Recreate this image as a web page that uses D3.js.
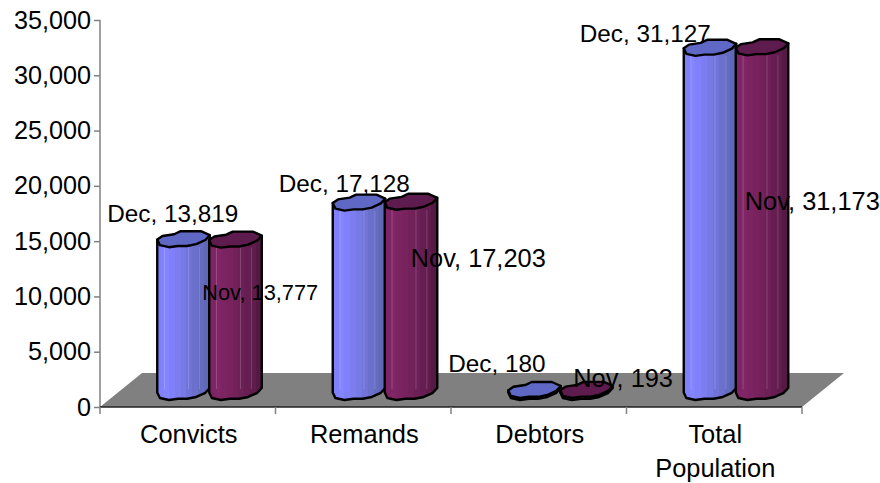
<!DOCTYPE html>
<html>
<head>
<meta charset="utf-8">
<script src="https://cdn.jsdelivr.net/npm/d3@7"></script>
<style>
  html, body { margin: 0; background: #fff; }
  text { font-family: "Liberation Sans", Arial, sans-serif; fill: #000; }
  .yAxis path, .yAxis line, .xAxis line { stroke: #808080; stroke-width: 1.5; }
  .xAxis path { stroke: #222; stroke-width: 1.5; }
</style>
</head>
<body>
<div id="wrapper"></div>
<script>
//1. Data
const categories = ['Convicts', 'Remands', 'Debtors', 'Total Population'];
const series = ['Dec', 'Nov'];
const decValues = [13819, 17128, 180, 31127];
const novValues = [13777, 17203, 193, 31173];
const yTicks = [0, 5000, 10000, 15000, 20000, 25000, 30000, 35000];

//2. Dimensions
const dimensions = {
  width: 880,
  height: 483,
  margin: { top: 20, right: 78, bottom: 76, left: 100 },
};
dimensions.boundedWidth = dimensions.width - dimensions.margin.left - dimensions.margin.right;
dimensions.boundedHeight = dimensions.height - dimensions.margin.top - dimensions.margin.bottom;

const depth = { x: 42, y: 34 };   // floor skew
const baseLift = 15;              // bars stand this far behind the front edge
const barShift = 21.5;
const ry = 8;

// label tweaks, same order as categories
const decLabelOffset = [[-76, -17], [-80, -11], [-86, -18], [-130, -6]];
const novLabelOffset = [[-33, 60], [0, 65], [-13, -3], [-17, 163]];
const novLabelSize = [21.8, 25.4, 25.4, 25.4];

// outline of a bar's cap, -1..1 each way
const capBack = [[-1, 0.05], [-0.8, -0.4], [-0.35, -0.62], [-0.1, -1], [0.68, -1], [1.02, -0.5]];
const capFront = [[0.85, 0.1], [0.5, 0.62], [0.15, 0.85], [-0.2, 0.85], [-0.55, 1], [-0.9, 0.75]];

//3. Canvas
const wrapper = d3.select('#wrapper').append('svg')
  .attr('width', dimensions.width)
  .attr('height', dimensions.height)
  .style('display', 'block');

const bounds = wrapper.append('g')
  .attr('transform', `translate(${dimensions.margin.left},${dimensions.margin.top})`);

//4. Scales
const xScale = d3.scaleBand()
  .domain(categories)
  .range([0, dimensions.boundedWidth]);

const seriesScale = d3.scaleBand()
  .domain(series)
  .range([0, 104]);

const yScale = d3.scaleLinear()
  .domain([0, 35000])
  .range([dimensions.boundedHeight, 0]);

// faceted gradients
const defs = wrapper.append('defs');
function facetGradient(id, colors) {
  const grad = defs.append('linearGradient').attr('id', id);
  colors.forEach((c, i) => {
    grad.append('stop').attr('offset', i / colors.length).attr('stop-color', c);
    grad.append('stop').attr('offset', (i + 1) / colors.length).attr('stop-color', c);
  });
}
facetGradient('blueBody', ['#8080fc', '#8484ff', '#8080fa', '#7c7eef', '#767ae4', '#7074d8', '#6a70cc', '#646cc0', '#5f68b6']);
facetGradient('maroonBody', ['#7e2464', '#802566', '#7c2462', '#78235e', '#72215a', '#6c2056', '#661e52', '#601c4c', '#561945']);

const seriesStyle = {
  Dec: { body: 'url(#blueBody)', cap: '#5f68c4' },
  Nov: { body: 'url(#maroonBody)', cap: '#5e1c4e' },
};

//5. Floor
const floorY = yScale(0);
const floor = [
  [0, floorY],
  [depth.x, floorY - depth.y],
  [dimensions.boundedWidth + depth.x, floorY - depth.y],
  [dimensions.boundedWidth, floorY],
];
bounds.append('path')
  .attr('d', d3.line()(floor) + 'Z')
  .attr('fill', '#808080');

//6. Axes
const yAxis = bounds.append('g')
  .attr('class', 'yAxis')
  .call(d3.axisLeft(yScale)
    .tickValues(yTicks)
    .tickFormat(d3.format(','))
    .tickSize(6)
    .tickPadding(3));
yAxis.select('.domain').attr('d', `M0,0V${floorY}`);
yAxis.selectAll('text')
  .style('font-size', '25.2px');

const xAxis = bounds.append('g')
  .attr('class', 'xAxis')
  .attr('transform', `translate(0,${floorY})`)
  .call(d3.axisBottom(xScale).tickSize(0).tickFormat(''));
xAxis.select('.domain').attr('d', `M0,0H${dimensions.boundedWidth}`);

xAxis.selectAll('.edgeTick')
  .data(d3.range(categories.length + 1))
  .enter()
  .append('line')
  .attr('class', 'edgeTick')
  .attr('x1', d => d * xScale.step())
  .attr('x2', d => d * xScale.step())
  .attr('y2', 7);

const catLabels = xAxis.selectAll('.catLabel')
  .data(categories)
  .enter()
  .append('text')
  .attr('class', 'catLabel')
  .attr('text-anchor', 'middle')
  .attr('y', 36)
  .style('font-size', '25.4px');

// "Total Population" wraps on two lines
catLabels.each(function (d) {
  const words = d.includes(' ') ? d.split(' ') : [d];
  d3.select(this).selectAll('tspan')
    .data(words)
    .enter()
    .append('tspan')
    .attr('x', xScale(d) + xScale.bandwidth() / 2 + 1)
    .attr('dy', (w, i) => (i ? 34 : 0))
    .text(w => w);
});

//7. Bars
const barCenter = (cat, s) => xScale(cat) + xScale.bandwidth() / 2 - 52 + barShift
  + seriesScale(s) + seriesScale.bandwidth() / 2;
const rx = seriesScale.bandwidth() / 2;
const capY = v => yScale(v) - baseLift;
const line = d3.line();

function drawBar(cat, s, value) {
  const cx = barCenter(cat, s);
  const top = capY(value);
  const bottom = capY(0);
  const style = seriesStyle[s];
  const g = bounds.append('g').attr('class', 'bar');

  const at = (y) => ([px, py]) => [cx + px * rx, y + py * ry];
  const frontAsc = capFront.slice().reverse();   // left to right
  const body = [
    at(top)(capBack[0]),
    at(bottom)(capBack[0]),
    ...frontAsc.map(at(bottom)),
    at(bottom)(capBack[capBack.length - 1]),
    at(top)(capBack[capBack.length - 1]),
  ];
  g.append('path')
    .attr('d', line(body) + 'Z')
    .attr('fill', style.body)
    .attr('stroke', '#000')
    .attr('stroke-width', 2.4)
    .attr('stroke-linejoin', 'round');

  // thin light facet lines
  if (bottom - top > 30) {
    [-0.72, 0.2, 0.62].forEach(f => {
      g.append('line')
        .attr('x1', cx + f * rx)
        .attr('x2', cx + f * rx)
        .attr('y1', top + ry)
        .attr('y2', bottom - 3)
        .attr('stroke', '#fff')
        .attr('stroke-opacity', 0.18);
    });
  }

  g.append('path')
    .attr('d', line([...capBack, ...capFront].map(at(top))) + 'Z')
    .attr('fill', style.cap)
    .attr('stroke', '#000')
    .attr('stroke-width', 2.4)
    .attr('stroke-linejoin', 'round');
}

categories.forEach((cat, i) => {
  drawBar(cat, 'Dec', decValues[i]);
  drawBar(cat, 'Nov', novValues[i]);
});

//8. Labels
const fmt = d3.format(',');
categories.forEach((cat, i) => {
  bounds.append('text')
    .attr('x', barCenter(cat, 'Dec') + decLabelOffset[i][0])
    .attr('y', capY(decValues[i]) + decLabelOffset[i][1])
    .style('font-size', '24.3px')
    .text(`Dec, ${fmt(decValues[i])}`);
  bounds.append('text')
    .attr('x', barCenter(cat, 'Nov') + novLabelOffset[i][0])
    .attr('y', capY(novValues[i]) + novLabelOffset[i][1])
    .style('font-size', `${novLabelSize[i]}px`)
    .text(`Nov, ${fmt(novValues[i])}`);
});
</script>
</body>
</html>
